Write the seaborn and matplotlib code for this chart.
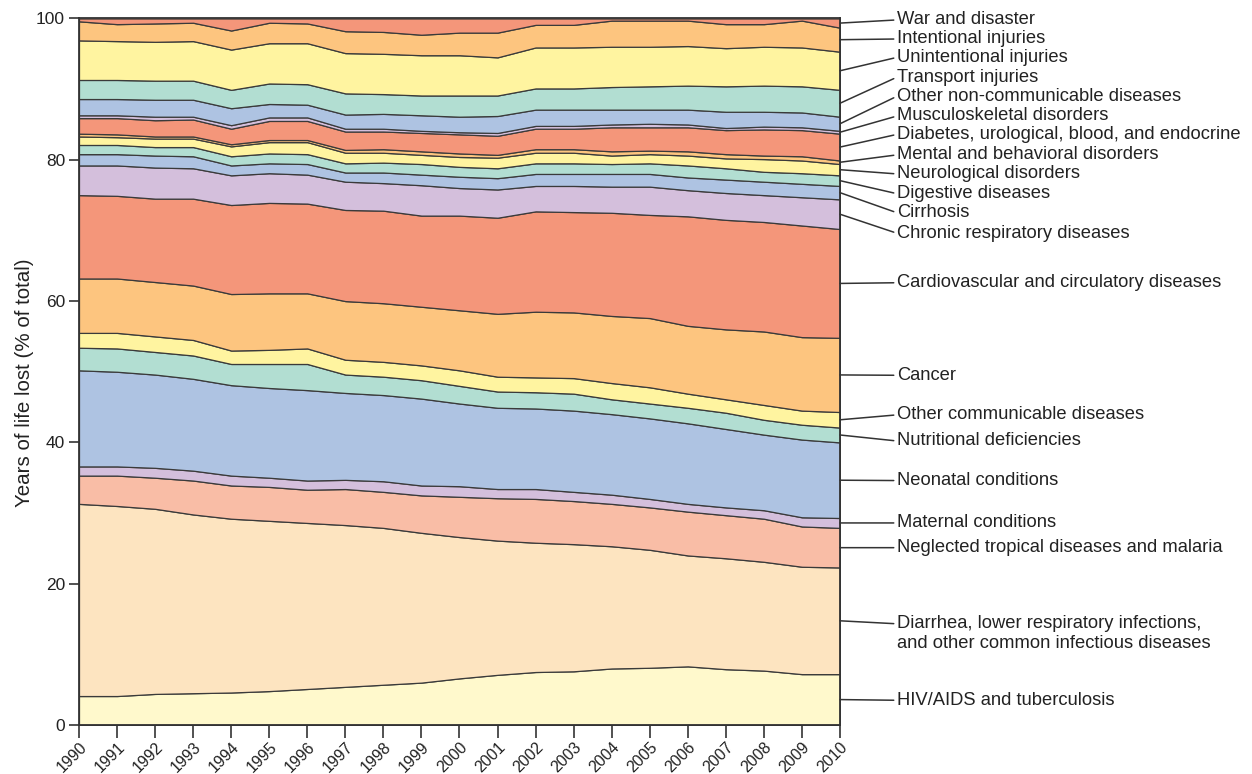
import numpy as np
import pandas as pd
import matplotlib
matplotlib.use("Agg")
import matplotlib.pyplot as plt
import matplotlib.transforms as mtransforms
import seaborn as sns

# === data: share of years of life lost (% of total), 1990-2010 ===
years = list(range(1990, 2011))

hiv_tb = [4.1, 4.1, 4.4, 4.5, 4.6, 4.8, 5.1, 5.4, 5.7, 6.0, 6.6,
          7.1, 7.5, 7.6, 8.0, 8.1, 8.3, 7.9, 7.7, 7.2, 7.2]
diarrhea = [27.2, 26.9, 26.2, 25.3, 24.6, 24.1, 23.5, 22.9, 22.2, 21.2, 20.0,
            19.0, 18.3, 18.0, 17.3, 16.7, 15.7, 15.7, 15.4, 15.2, 15.1]
ntd_malaria = [4.0, 4.3, 4.4, 4.8, 4.7, 4.8, 4.7, 5.1, 5.1, 5.3, 5.7,
               6.0, 6.2, 6.1, 6.0, 6.0, 6.2, 6.1, 6.1, 5.7, 5.6]
maternal = [1.3, 1.3, 1.4, 1.4, 1.4, 1.3, 1.3, 1.3, 1.5, 1.4, 1.5,
            1.3, 1.4, 1.3, 1.3, 1.2, 1.1, 1.1, 1.2, 1.3, 1.4]
neonatal = [13.6, 13.4, 13.2, 13.0, 12.8, 12.7, 12.8, 12.3, 12.2, 12.3, 11.7,
            11.5, 11.4, 11.5, 11.4, 11.4, 11.4, 11.1, 10.7, 11.0, 10.7]
nutritional = [3.2, 3.3, 3.2, 3.3, 3.0, 3.4, 3.7, 2.6, 2.6, 2.6, 2.5,
               2.3, 2.3, 2.4, 2.1, 2.1, 2.2, 2.3, 2.1, 2.1, 2.1]
other_communicable = [2.1, 2.2, 2.2, 2.2, 1.9, 2.0, 2.2, 2.1, 2.1, 2.1, 2.2,
                      2.1, 2.1, 2.2, 2.3, 2.3, 2.0, 1.9, 2.1, 2.0, 2.2]
cancer = [7.7, 7.7, 7.7, 7.7, 8.0, 8.0, 7.8, 8.3, 8.3, 8.3, 8.5,
          8.9, 9.3, 9.3, 9.5, 9.8, 9.6, 9.9, 10.4, 10.4, 10.5]
cardiovascular = [11.8, 11.7, 11.8, 12.3, 12.6, 12.8, 12.7, 12.9, 13.1, 12.9, 13.4,
                  13.6, 14.2, 14.2, 14.6, 14.6, 15.5, 15.5, 15.5, 15.8, 15.4]
chronic_respiratory = [4.2, 4.3, 4.4, 4.3, 4.2, 4.2, 4.1, 4.0, 3.9, 4.3, 3.9,
                       4.0, 3.6, 3.7, 3.7, 4.0, 3.7, 3.8, 3.8, 4.0, 4.2]
cirrhosis = [1.6, 1.6, 1.7, 1.7, 1.4, 1.4, 1.5, 1.3, 1.5, 1.5, 1.6,
             1.6, 1.7, 1.7, 1.8, 1.8, 1.8, 1.9, 1.9, 1.9, 1.9]
digestive = [1.3, 1.3, 1.2, 1.3, 1.3, 1.4, 1.4, 1.3, 1.4, 1.5, 1.4,
             1.4, 1.5, 1.5, 1.4, 1.5, 1.7, 1.6, 1.4, 1.5, 1.5]
neurological = [1.2, 1.1, 1.2, 1.2, 1.4, 1.6, 1.7, 1.5, 1.4, 1.3, 1.4,
                1.5, 1.5, 1.5, 1.2, 1.3, 1.4, 1.4, 1.8, 1.8, 1.6]
mental = [0.4, 0.4, 0.3, 0.3, 0.3, 0.3, 0.3, 0.4, 0.5, 0.5, 0.5,
          0.4, 0.5, 0.5, 0.6, 0.5, 0.6, 0.6, 0.5, 0.6, 0.5]
diabetes = [2.2, 2.3, 2.3, 2.4, 2.2, 2.7, 2.7, 2.6, 2.5, 2.6, 2.7,
            2.7, 2.9, 2.9, 3.4, 3.3, 3.4, 3.4, 3.7, 3.7, 3.8]
musculoskeletal = [0.4, 0.4, 0.5, 0.4, 0.5, 0.5, 0.5, 0.4, 0.4, 0.3, 0.3,
                   0.4, 0.4, 0.4, 0.4, 0.5, 0.4, 0.3, 0.4, 0.4, 0.4]
other_ncd = [2.3, 2.3, 2.4, 2.4, 2.4, 1.9, 1.8, 2.0, 2.1, 2.2, 2.2,
             2.4, 2.3, 2.3, 2.1, 2.0, 2.1, 2.3, 2.1, 2.1, 2.0]
transport = [2.7, 2.7, 2.7, 2.7, 2.6, 2.9, 2.9, 3.0, 2.8, 2.8, 3.0,
             2.9, 3.0, 3.0, 3.2, 3.3, 3.4, 3.6, 3.7, 3.7, 3.8]
unintentional = [5.6, 5.5, 5.5, 5.6, 5.7, 5.7, 5.8, 5.7, 5.7, 5.7, 5.7,
                 5.4, 5.8, 5.8, 5.7, 5.6, 5.6, 5.4, 5.5, 5.5, 5.4]
intentional = [2.7, 2.4, 2.6, 2.6, 2.7, 2.9, 2.8, 3.1, 3.1, 2.9, 3.2,
               3.5, 3.2, 3.2, 3.7, 3.7, 3.6, 3.4, 3.2, 3.8, 3.4]
war_disaster = [0.4, 0.8, 0.7, 0.6, 1.7, 0.6, 0.7, 1.8, 1.9, 2.3, 2.0,
                2.0, 0.9, 0.9, 0.3, 0.3, 0.3, 0.8, 0.8, 0.3, 1.3]

# bottom -> top
causes = [
    ("HIV/AIDS and tuberculosis", hiv_tb),
    ("Diarrhea, lower respiratory infections,\nand other common infectious diseases", diarrhea),
    ("Neglected tropical diseases and malaria", ntd_malaria),
    ("Maternal conditions", maternal),
    ("Neonatal conditions", neonatal),
    ("Nutritional deficiencies", nutritional),
    ("Other communicable diseases", other_communicable),
    ("Cancer", cancer),
    ("Cardiovascular and circulatory diseases", cardiovascular),
    ("Chronic respiratory diseases", chronic_respiratory),
    ("Cirrhosis", cirrhosis),
    ("Digestive diseases", digestive),
    ("Neurological disorders", neurological),
    ("Mental and behavioral disorders", mental),
    ("Diabetes, urological, blood, and endocrine", diabetes),
    ("Musculoskeletal disorders", musculoskeletal),
    ("Other non-communicable diseases", other_ncd),
    ("Transport injuries", transport),
    ("Unintentional injuries", unintentional),
    ("Intentional injuries", intentional),
    ("War and disaster", war_disaster),
]
df = pd.DataFrame({name: vals for name, vals in causes}, index=years)

salmon, orange, yellow, teal, blue, purple = "#F4967A", "#FDC57F", "#FFF4A0", "#B2DED2", "#AEC3E2", "#D4BFDC"
colors = ["#FFF9CC", "#FDE4C0", "#F9BDA6", purple, blue, teal, yellow, orange, salmon,
          purple, blue, teal, yellow, orange, salmon, purple, blue, teal, yellow, orange, salmon]

# label heights on the right (y in data units)
label_y = [3.5, 12.9, 25.1, 28.6, 34.6, 40.2, 43.9, 49.5, 62.6, 69.6, 72.5,
           75.2, 78.0, 80.7, 83.6, 86.2, 89.0, 91.7, 94.5, 97.1, 99.8]

# === plot ===
sns.set_style("ticks")
plt.rcParams["font.family"] = ["Liberation Sans", "DejaVu Sans"]
plt.rcParams["text.color"] = "#222222"

fig, ax = plt.subplots(figsize=(12.52, 7.74), dpi=100)
fig.subplots_adjust(left=0.0631, right=0.6709, bottom=0.0633, top=0.9761)

ax.stackplot(df.index, df.T.values, colors=colors, edgecolor="#3a3a3a", linewidth=0.9)

ax.set_xlim(1990, 2010)
ax.set_ylim(0, 100)
ax.set_yticks(range(0, 101, 20))
ax.set_xticks(years)
ax.set_xticklabels([str(y) for y in years], rotation=45, ha="right", va="top",
                   rotation_mode="anchor", fontsize=11.5)
shift = mtransforms.ScaledTranslation(16 / 100, 0, fig.dpi_scale_trans)
for lab in ax.get_xticklabels():
    lab.set_transform(lab.get_transform() + shift)

ax.tick_params(axis="x", length=9, width=1.2, color="#333333",
               labelcolor="#222222", pad=1.5)
ax.tick_params(axis="y", length=7, width=1.2, color="#333333", labelsize=12.5,
               labelcolor="#222222", pad=3)
for sp in ax.spines.values():
    sp.set_linewidth(1.3)
    sp.set_color("#333333")
ax.set_ylabel("Years of life lost (% of total)", fontsize=14.8, color="#222222")
ax.yaxis.set_label_coords(-0.059, 0.484)

# === leader labels ===
last = df.iloc[-1].values
tops = np.cumsum(last)
mids = tops - last / 2
for (name, _), mid, ly in zip(causes, mids, label_y):
    rel = (0, 0.77) if "\n" in name else (0, 0.5)
    ax.annotate(name, xy=(2010, mid), xytext=(2011.5, ly), textcoords="data",
                ha="left", va="center", fontsize=13.2, linespacing=1.25,
                annotation_clip=False,
                arrowprops=dict(arrowstyle="-", color="#333333", lw=1.1,
                                shrinkA=0, shrinkB=0, relpos=rel))

plt.savefig("out.png", dpi=100)
